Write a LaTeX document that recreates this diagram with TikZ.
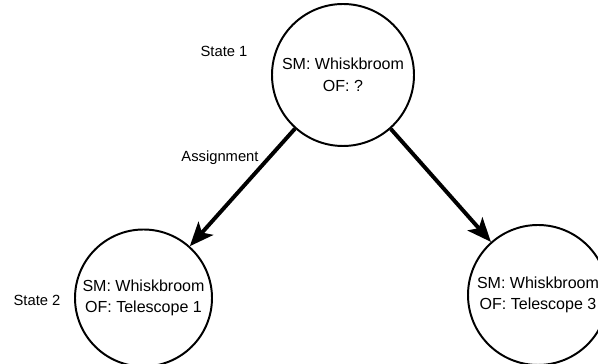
\documentclass[tikz,border=0pt]{standalone}
\usepackage{fontspec}
\setmainfont{Liberation Sans}
\usepackage{tikz}
\usetikzlibrary{arrows.meta}
\usepackage{xcolor}

\tikzset{
  statecirc/.style={circle, draw=black, line width=1.4pt, minimum size=3.5cm, inner sep=0pt, align=center, font={\fontsize{11.4}{15.4}\selectfont}},
  statelbl/.style={font={\fontsize{10.5}{12}\selectfont}},
  assignarrow/.style={line width=2.8pt, -{Stealth[length=17pt, width=14pt, inset=4pt]}}
}

\begin{document}
\begin{tikzpicture}
%--------------------------------------------------
\useasboundingbox (0,0) rectangle (14.95,9.1);

% the three states
\node[statecirc, minimum size=3.55cm] (state1) at (8.575,7.225) {SM: Whiskbroom\\OF: ?};
\node[statecirc, minimum size=3.425cm] (state2) at (3.5875,1.65) {SM: Whiskbroom\\OF: Telescope 1};
\node[statecirc] (state3) at (13.45,1.725) {SM: Whiskbroom\\OF: Telescope 3};

% labels beside the states
\node[statelbl] (lbl1) at (5.6,7.825) {State 1};
\node[statelbl] (lbl2) at (0.925,1.6) {State 2};

% assignments to the next states
\draw[assignarrow] (state1) -- (state2);
\draw[assignarrow] (state1) -- (state3);
\node[statelbl] (assignlbl) at (5.5,5.15) {Assignment};

%--------------------------------------------------
\end{tikzpicture}
\end{document}
